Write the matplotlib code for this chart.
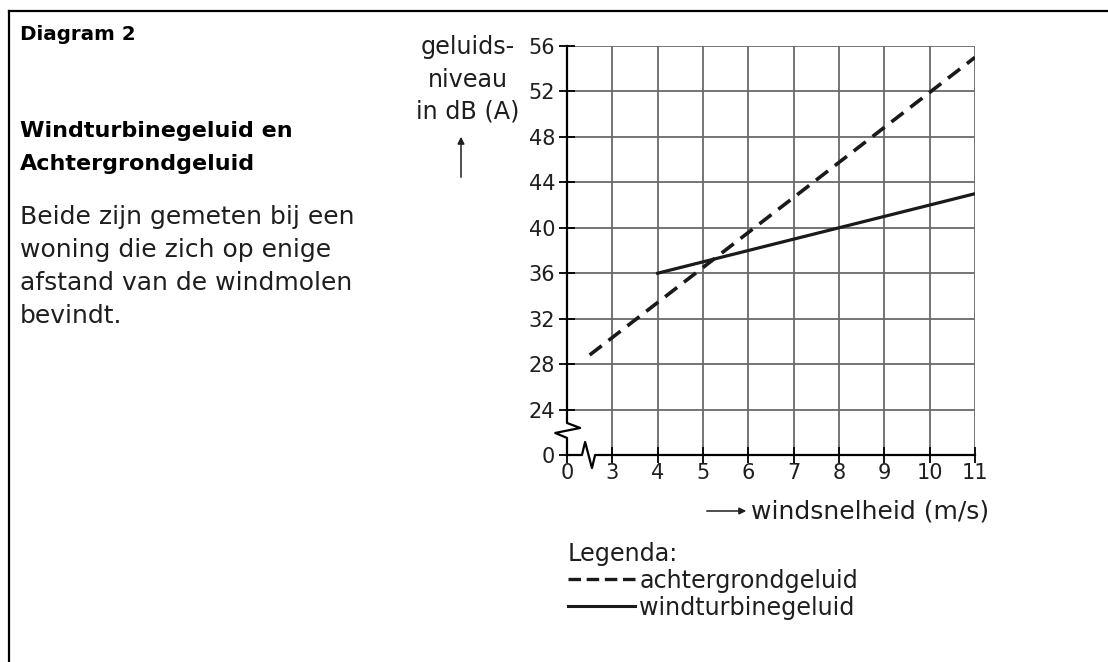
import matplotlib.pyplot as plt
from matplotlib.lines import Line2D

plt.rcParams['font.family'] = ['DejaVu Sans']

# data (x axis is broken between 0 and 3, y axis between 0 and 24)
wind_bg = [2.5, 11]
db_bg = [28.8, 55.0]
wind_wt = [4, 11]
db_wt = [36, 43]

xtick_pos = [2, 3, 4, 5, 6, 7, 8, 9, 10, 11]
xtick_lbl = ['0', '3', '4', '5', '6', '7', '8', '9', '10', '11']
ytick_pos = [20, 24, 28, 32, 36, 40, 44, 48, 52, 56]
ytick_lbl = ['0', '24', '28', '32', '36', '40', '44', '48', '52', '56']

ylabel_lines = ['geluids-', 'niveau', 'in dB (A)']
title_lines = ['Windturbinegeluid en', 'Achtergrondgeluid']
body_lines = ['Beide zijn gemeten bij een', 'woning die zich op enige',
              'afstand van de windmolen', 'bevindt.']

W, H = 1108, 662
TXT = '#1e1e1e'
FS = 17.2


def fx(px):
    return px / W


def fy(py):
    return 1 - py / H


fig = plt.figure(figsize=(W / 100, H / 100), dpi=100)
ax = fig.add_axes([fx(567), fy(455), fx(975) - fx(567), fy(46) - fy(455)])
ax.set_xlim(2, 11)
ax.set_ylim(20, 56)
for s in ax.spines.values():
    s.set_visible(False)

# grid
ax.vlines(xtick_pos[1:], 20, 56, color='#6a6a6a', lw=1.3, zorder=1)
ax.hlines(ytick_pos[1:], 2, 11, color='#6a6a6a', lw=1.3, zorder=1)

# broken axes
ax.plot([2, 2, 2.29, 1.74, 2, 2], [56, 22.82, 22.38, 21.94, 21.5, 20],
        color='black', lw=1.6, clip_on=False, zorder=3)
ax.plot([2, 2.33, 2.40, 2.55, 2.62, 11], [20, 20, 21.15, 18.85, 20, 20],
        color='black', lw=1.6, clip_on=False, zorder=3)

ax.plot(wind_bg, db_bg, color='#1a1a1a', lw=2.6, dashes=(4.2, 2.4),
        dash_capstyle='butt', zorder=4)
ax.plot(wind_wt, db_wt, color='#1a1a1a', lw=2.3, zorder=4)

ax.set_xticks(xtick_pos, xtick_lbl)
ax.set_yticks(ytick_pos, ytick_lbl)
ax.tick_params(direction='inout', length=11, width=1.3, color='black',
               labelsize=15, labelcolor=TXT)
ax.tick_params(axis='y', pad=3)
ax.tick_params(axis='x', pad=0)

# axis titles
for txt, py in zip(ylabel_lines, [47, 80, 111]):
    fig.text(fx(468), fy(py), txt, ha='center', va='center', fontsize=FS, color=TXT)
ax.annotate('', xy=(fx(461), fy(134)), xytext=(fx(461), fy(180)),
            xycoords='figure fraction', textcoords='figure fraction',
            arrowprops=dict(arrowstyle='-|>', lw=1.1, color=TXT, mutation_scale=10))
ax.annotate('', xy=(fx(749), fy(511)), xytext=(fx(704), fy(511)),
            xycoords='figure fraction', textcoords='figure fraction',
            arrowprops=dict(arrowstyle='-|>', lw=1.1, color=TXT, mutation_scale=10))
fig.text(fx(751), fy(512), 'windsnelheid (m/s)', ha='left', va='center',
         fontsize=18, color=TXT)

# legend
handles = [Line2D([], [], color='#1a1a1a', lw=2.4, dashes=(3.75, 1.7),
                  dash_capstyle='butt'),
           Line2D([], [], color='#1a1a1a', lw=2.2)]
leg = fig.legend(handles, ['achtergrondgeluid', 'windturbinegeluid'],
                 loc='upper left', bbox_to_anchor=(fx(563), fy(537)),
                 frameon=False, title='Legenda:', alignment='left',
                 fontsize=FS, title_fontsize=FS, handlelength=2.8,
                 handletextpad=0.2, labelspacing=0.12, borderaxespad=0,
                 borderpad=0.2)
for t in leg.get_texts():
    t.set_color(TXT)
leg.get_title().set_color(TXT)

# left-hand text block
fig.text(fx(20), fy(35), 'Diagram 2', ha='left', va='center', fontsize=14.3,
         fontweight='bold', color='black')
for txt, py in zip(title_lines, [131, 164]):
    fig.text(fx(20), fy(py), txt, ha='left', va='center', fontsize=16,
             fontweight='bold', color='black')
for txt, py in zip(body_lines, [217, 250, 283, 316]):
    fig.text(fx(20), fy(py), txt, ha='left', va='center', fontsize=18, color=TXT)

# frame lines (top and left only)
fig.add_artist(Line2D([fx(9), fx(9)], [0, fy(11)], transform=fig.transFigure,
                      color='black', lw=1.6))
fig.add_artist(Line2D([fx(9), 1], [fy(11), fy(11)], transform=fig.transFigure,
                      color='black', lw=1.6))

fig.savefig('out.png', dpi=100)
